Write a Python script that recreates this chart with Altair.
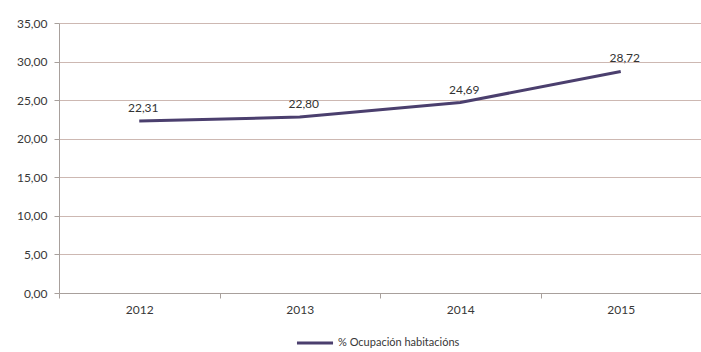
import altair as alt
import pandas as pd

years = ["2012", "2013", "2014", "2015"]
values = [22.31, 22.80, 24.69, 28.72]
series = "% Ocupación habitacións"
y_ticks = [0, 5, 10, 15, 20, 25, 30, 35]

df = pd.DataFrame({"year": years, "value": values, "serie": [series] * len(years)})
df["label"] = [f"{v:.2f}".replace(".", ",") for v in values]

FONT = "Lato"
x = alt.X(
    "year:O",
    title=None,
    scale=alt.Scale(paddingInner=0, paddingOuter=0),
    axis=alt.Axis(
        labelAngle=0, tickBand="extent", domainColor="#a8a09c", tickColor="#a8a09c",
        tickSize=5, labelPadding=6, labelFont=FONT, labelFontSize=12,
        labelColor="#383838", grid=False,
    ),
)
y = alt.Y(
    "value:Q",
    title=None,
    scale=alt.Scale(domain=[0, 35], nice=False, zero=True),
    axis=alt.Axis(
        values=y_ticks,
        labelOverlap=False,
        labelExpr="replace(format(datum.value, '.2f'), '.', ',')",
        domainColor="#a8a09c", tickColor="#a8a09c", tickSize=5, labelPadding=7,
        labelFont=FONT, labelFontSize=12, labelColor="#383838",
        gridColor="#cdb8b2", gridWidth=1.2,
    ),
)

line = alt.Chart(df).mark_line(strokeWidth=3).encode(
    x=x,
    y=y,
    color=alt.Color(
        "serie:N",
        scale=alt.Scale(range=["#4b3f6e"]),
        legend=alt.Legend(
            title=None, orient="none", legendX=236, legendY=300,
            symbolType="stroke", symbolSize=1300, symbolStrokeWidth=3,
            labelFont=FONT, labelFontSize=11, labelColor="#383838", labelOffset=3,
        ),
    ),
)

text = alt.Chart(df).mark_text(dy=-13, dx=4, font=FONT, fontSize=12, color="#333333").encode(
    x=x, y=y, text="label:N"
)

chart = (
    alt.layer(line, text)
    .properties(
        width=642, height=270,
        autosize=alt.AutoSizeParams(type="none"),
        padding={"left": 59, "top": 23, "right": 0, "bottom": 59},
        background="white",
    )
    .configure_view(stroke=None)
)

chart.save("out.html", embed_options={"renderer": "svg", "actions": False})
